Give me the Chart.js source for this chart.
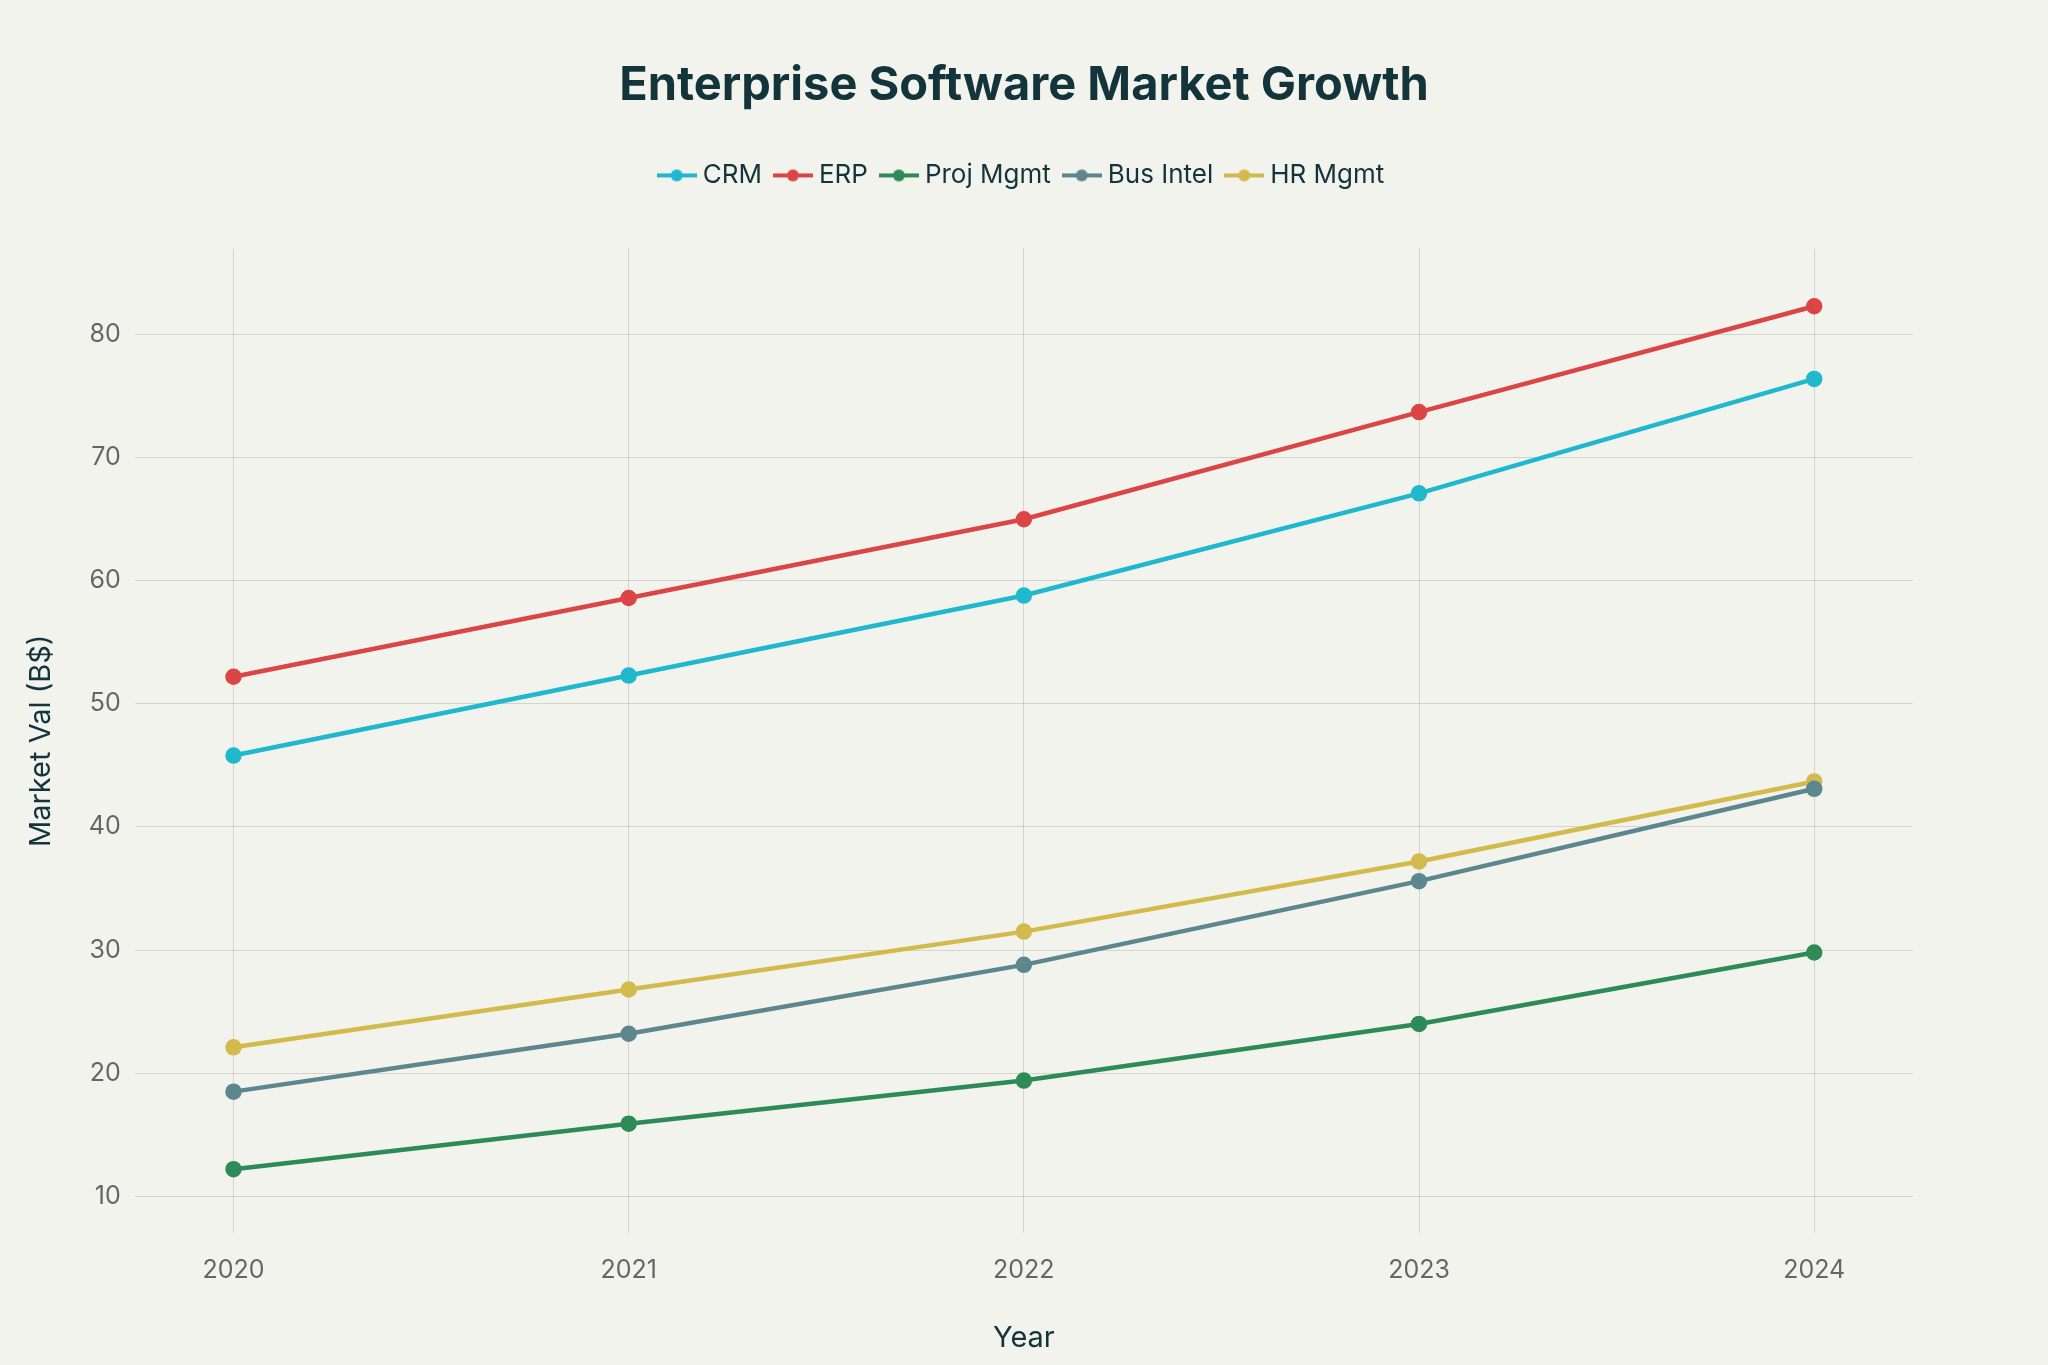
<!DOCTYPE html>
<html><head><meta charset="utf-8">
<script src="https://cdn.jsdelivr.net/npm/chart.js@4"></script>
<style>html,body{margin:0;background:#f3f3ee;}#w{width:2048px;height:1365px;}</style>
</head><body><div id="w"><canvas id="c"></canvas></div>
<script>
const years = [2020, 2021, 2022, 2023, 2024];
const crm = [45.8, 52.3, 58.8, 67.1, 76.4];
const erp = [52.2, 58.6, 65.0, 73.7, 82.3];
const projMgmt = [12.2, 15.9, 19.4, 24.0, 29.8];
const busIntel = [18.5, 23.2, 28.8, 35.6, 43.1];
const hrMgmt = [22.1, 26.8, 31.5, 37.2, 43.7];
const yTicks = [10, 20, 30, 40, 50, 60, 70, 80];
const names = ['CRM', 'ERP', 'Proj Mgmt', 'Bus Intel', 'HR Mgmt'];
const colors = ['#1fb8cd', '#db4545', '#2e8b57', '#5d878f', '#d2ba4c'];
const series = [crm, erp, projMgmt, busIntel, hrMgmt];
const F = 'Inter, "Open Sans", sans-serif';
function legendIcon(col) {
  const cv = document.createElement('canvas'); cv.width = 40; cv.height = 16;
  const g = cv.getContext('2d'); g.strokeStyle = col; g.lineWidth = 4;
  g.beginPath(); g.moveTo(0, 8); g.lineTo(40, 8); g.stroke();
  g.fillStyle = col; g.beginPath(); g.arc(20, 8, 6, 0, Math.PI * 2); g.fill();
  return cv;
}
new Chart(document.getElementById('c'), {
  type: 'line',
  data: { datasets: series.map((s, i) => ({
    label: names[i], data: s.map((v, j) => ({x: years[j], y: v})),
    borderColor: colors[i], backgroundColor: colors[i], borderWidth: 4.5,
    pointRadius: 6, pointHoverRadius: 6, tension: 0 })) },
  options: {
    responsive: true, maintainAspectRatio: false, animation: false,
    layout: { padding: { left: 20, right: 20, top: 58, bottom: 5 } },
    plugins: {
      title: { display: true, text: 'Enterprise Software Market Growth', color: '#13343b',
        font: { family: F, size: 47, weight: 'bold' }, padding: { bottom: 30 } },
      legend: { padding: 0, onClick: null,
        labels: { usePointStyle: true, color: '#13343b', font: { family: F, size: 26 }, padding: 18,
          generateLabels: c => c.data.datasets.map((d, i) => ({ text: d.label, pointStyle: legendIcon(colors[i]),
            fontColor: '#13343b', strokeStyle: colors[i], fillStyle: colors[i], lineWidth: 0, datasetIndex: i })) } },
      tooltip: { enabled: false }
    },
    scales: {
      x: { type: 'linear', min: 2019.75, max: 2024.25,
        afterBuildTicks: a => { a.ticks = years.map(v => ({value: v})); },
        ticks: { color: '#666', font: { family: F, size: 25 }, padding: 22, callback: v => String(v) },
        grid: { color: 'rgba(0,0,0,0.13)', drawTicks: false }, border: { display: false },
        title: { display: true, text: 'Year', color: '#13343b', font: { family: F, size: 29 }, padding: { top: 14 } } },
      y: { min: 7, max: 87,
        afterBuildTicks: a => { a.ticks = yTicks.map(v => ({value: v})); },
        ticks: { color: '#666', font: { family: F, size: 25 }, padding: 14 },
        grid: { color: 'rgba(0,0,0,0.13)', drawTicks: false }, border: { display: false },
        title: { display: true, text: 'Market Val (B$)', color: '#13343b', font: { family: F, size: 29 }, padding: { bottom: 16 } } },
      y2: { position: 'right', display: true, min: 7, max: 87,
        grid: { display: false }, ticks: { display: false }, border: { display: false },
        afterFit: s => { s.width = 115; } }
    }
  },
  plugins: [{ id: 'legendGap', beforeInit(c) { const f = c.legend.fit; c.legend.fit = function () { f.call(this); this.height += 50; }; } }]
});
</script></body></html>
